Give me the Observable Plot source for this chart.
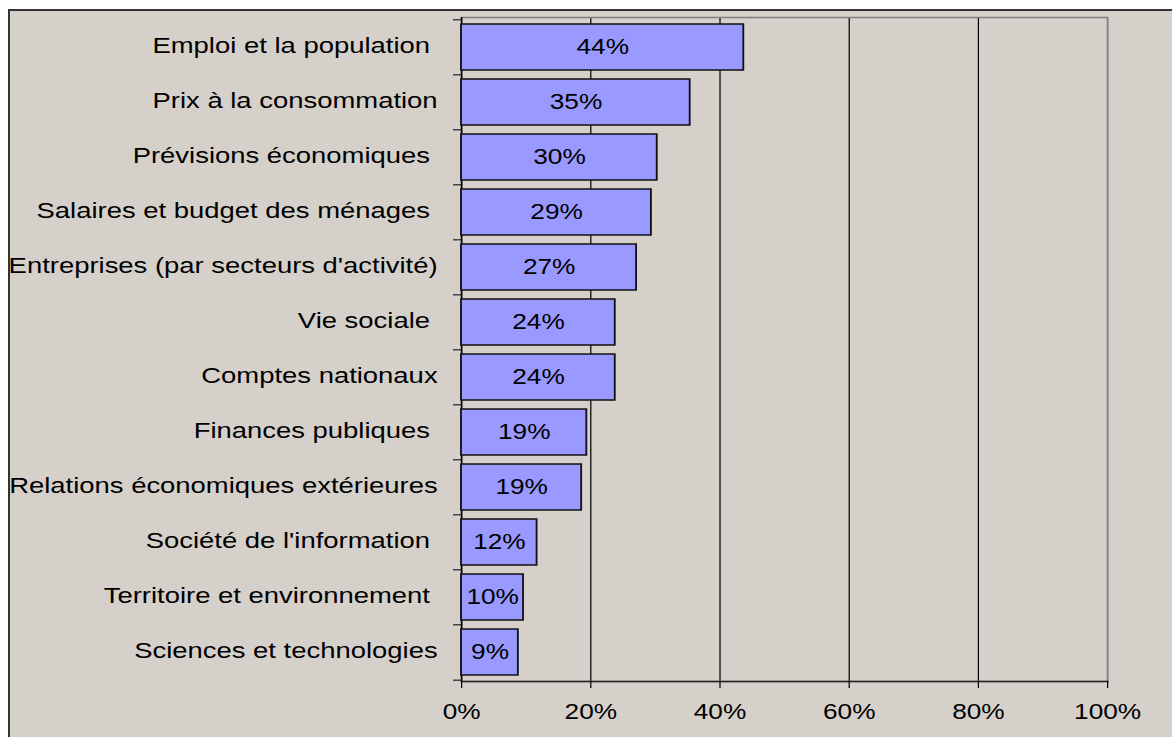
<!DOCTYPE html>
<html><head><meta charset="utf-8">
<script src="https://cdn.jsdelivr.net/npm/d3@7"></script>
<script src="https://cdn.jsdelivr.net/npm/@observablehq/plot@0.6"></script>
<style>
html,body{margin:0;padding:0;background:#fff;width:1172px;height:737px;overflow:hidden}
#frame{position:absolute;left:8px;top:9px;width:1200px;height:760px;border-left:2px solid #333;border-top:2px solid #333;background:#D5D0CA;}
#chart{position:absolute;left:0;top:0}
</style></head><body><div id="frame"></div><div id="chart"></div>
<script>
const categories = [
  "Emploi et la population ",
  "Prix à la consommation",
  "Prévisions économiques ",
  "Salaires et budget des ménages ",
  "Entreprises (par secteurs d'activité)",
  "Vie sociale ",
  "Comptes nationaux",
  "Finances publiques ",
  "Relations économiques extérieures",
  "Société de l'information ",
  "Territoire et environnement ",
  "Sciences et technologies"
];
const values = [0.437, 0.354, 0.303, 0.294, 0.271, 0.238, 0.238, 0.194, 0.186, 0.117, 0.096, 0.088];
const barLabels = ["44%", "35%", "30%", "29%", "27%", "24%", "24%", "19%", "19%", "12%", "10%", "9%"];
const xTicks = [0, 0.2, 0.4, 0.6, 0.8, 1];
const xTickLabels = ["0%", "20%", "40%", "60%", "80%", "100%"];

const data = categories.map((c, i) => ({category: c, value: values[i], label: barLabels[i]}));

const S = 1.22;              // horizontal stretch of the original picture
const W = 1172 / S, H = 737;
const plotTop = 17, plotBottom = 681;
const step = (plotBottom - plotTop) / categories.length;
const FS = 21.5;
const FSY = 22.5;

const chart = Plot.plot({
  width: W, height: H,
  marginLeft: 461 / S, marginRight: (1172 - 1107) / S,
  marginTop: plotTop, marginBottom: H - plotBottom,
  style: {background: "transparent", fontFamily: "'Liberation Sans', Arial, sans-serif", fontSize: FS + "px", color: "#000", overflow: "visible"},
  x: {domain: [0, 1], label: null},
  y: {domain: categories, paddingInner: 0.17, paddingOuter: 0.085, label: null},
  marks: [
    Plot.ruleX(xTicks.slice(1, -1), {stroke: "#000", strokeWidth: 1}),
    Plot.frame({stroke: "#808080", strokeWidth: 1.5}),
    Plot.ruleX([0], {stroke: "#000", strokeWidth: 1.2}),
    Plot.frame({anchor: "bottom", stroke: "#222", strokeWidth: 1.5}),
    Plot.barX(data, {x: "value", y: "category", fill: "#9999FF", stroke: "#111", strokeWidth: 1.5}),
    Plot.text(data, {x: d => d.value / 2, y: "category", text: "label", fontSize: FS, fill: "#000", dy: -0.5}),
    Plot.axisY({tickSize: 0, tickPadding: 24 / S, fontSize: FSY, textAnchor: "end", dy: -1.5}),
    Plot.axisY({tickSize: 8 / S, tickFormat: () => "", dy: -step / 2, stroke: "#000"}),
    Plot.axisY([categories[categories.length - 1]], {tickSize: 8 / S, tickFormat: () => "", dy: step / 2, stroke: "#000"}),
    Plot.axisX(xTicks, {tickSize: 7, tickPadding: 15, tickFormat: (d, i) => xTickLabels[xTicks.indexOf(d)], fontSize: FS, stroke: "#000"})
  ]
});
chart.setAttribute("viewBox", `0 0 ${W} ${H}`);
chart.setAttribute("preserveAspectRatio", "none");
chart.setAttribute("width", 1172);
chart.setAttribute("height", H);
chart.style.width = "1172px";
chart.style.height = H + "px";
chart.style.maxWidth = "none";
document.getElementById("chart").appendChild(chart);
</script></body></html>
